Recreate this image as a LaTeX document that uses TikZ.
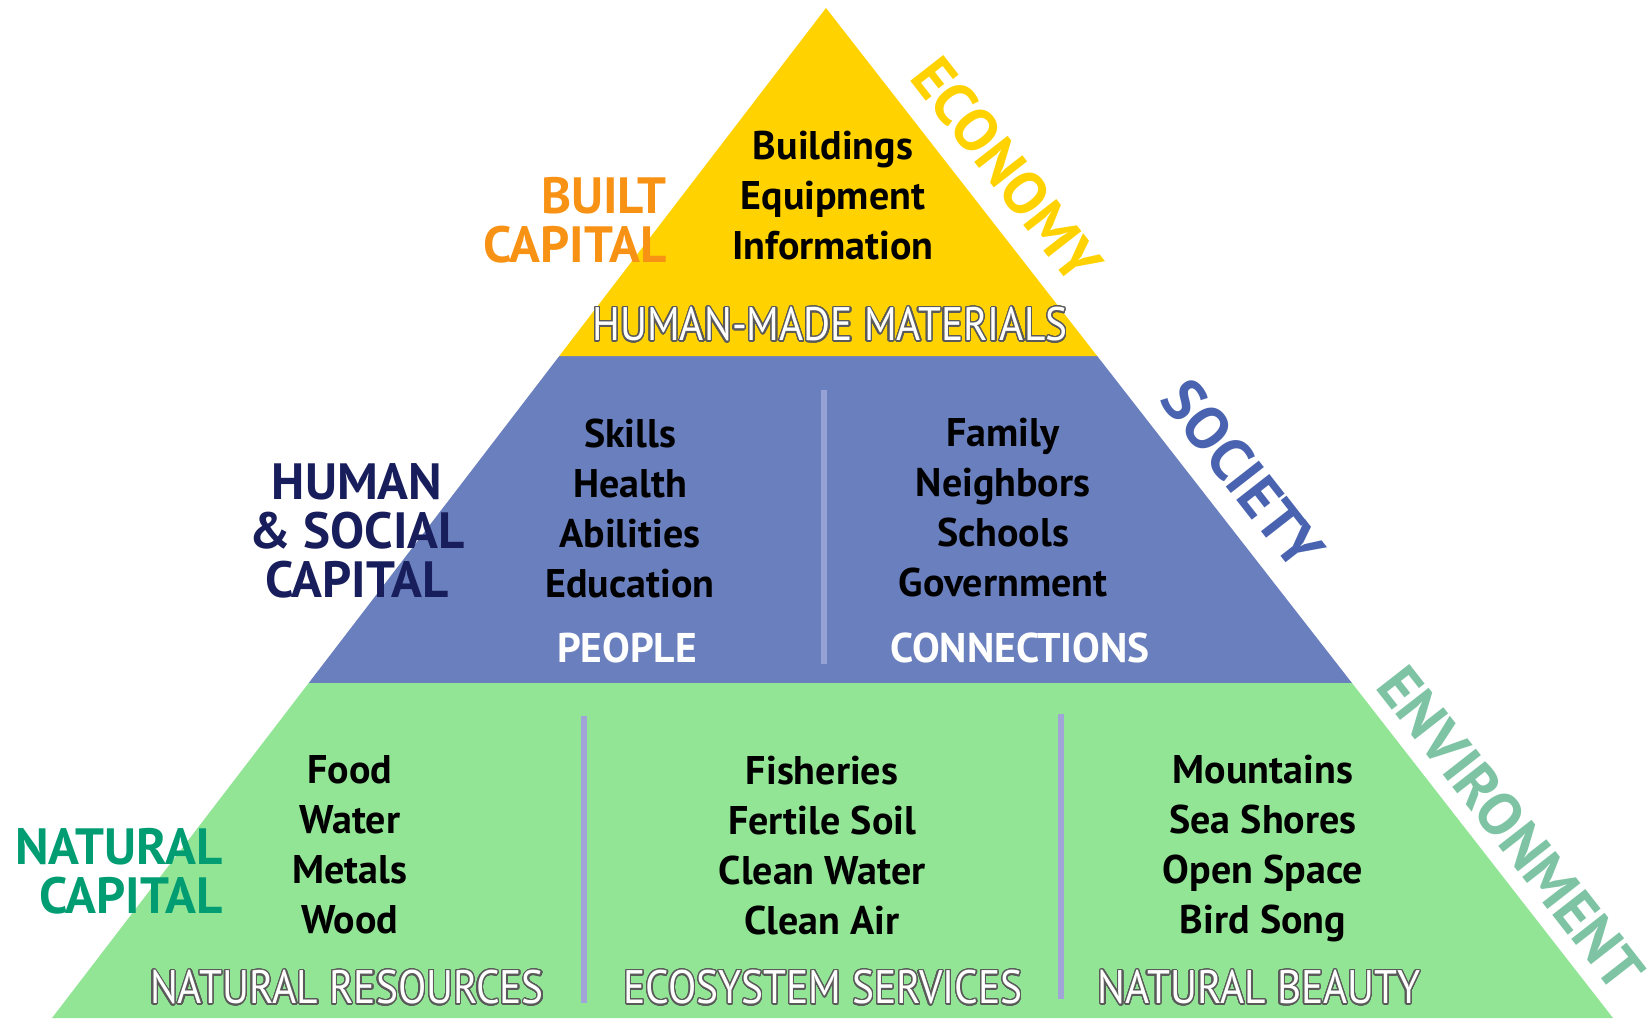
\documentclass[tikz,border=0pt]{standalone}
\usepackage{fontspec}
\setmainfont{PT Sans}
\newfontfamily\narrowfont[FakeStretch=0.88]{PT Sans}
\usepackage{contour}
\contourlength{1.3pt}
\contournumber{32}
\usetikzlibrary{calc}

\definecolor{builtyellow}{RGB}{255,210,0}
\definecolor{peopleblue}{RGB}{106,127,189}
\definecolor{naturegreen}{RGB}{147,229,150}
\definecolor{builtorange}{RGB}{247,146,20}
\definecolor{humannavy}{RGB}{24,30,92}
\definecolor{natgreen}{RGB}{0,156,114}
\definecolor{societyblue}{RGB}{74,99,176}
\definecolor{envgreen}{RGB}{126,196,164}
\definecolor{divlilac}{RGB}{160,164,214}
\definecolor{divblue}{RGB}{150,162,212}
\definecolor{rimgray}{RGB}{90,90,90}

\tikzset{
  list/.style={align=center, font=\fontsize{40}{50}\selectfont\bfseries},
  capital/.style={align=right, font=\fontsize{51}{49}\selectfont\bfseries},
  side/.style={rotate=-52, font=\fontsize{60}{60}\selectfont\bfseries},
  band/.style={text=white, font=\narrowfont\fontsize{47}{47}\selectfont},
  divider/.style={line width=6pt, line cap=butt}
}

\begin{document}
\begin{tikzpicture}[x=1pt,y=-1pt]
\useasboundingbox (0,0) rectangle (1652,1018);

% pyramid corners
\coordinate (A) at (826,8);
\coordinate (BL) at (52,1018);
\coordinate (BR) at (1613,1018);
\coordinate (L1) at ($(A)!0.3446!(BL)$);
\coordinate (R1) at ($(A)!0.3446!(BR)$);
\coordinate (L2) at ($(A)!0.6683!(BL)$);
\coordinate (R2) at ($(A)!0.6683!(BR)$);

% the three bands
\fill[naturegreen] (L2) -- (R2) -- (BR) -- (BL) -- cycle;
\fill[peopleblue] (L1) -- (R1) -- (R2) -- (L2) -- cycle;
\fill[builtyellow] (A) -- (R1) -- (L1) -- cycle;

% dividers
\draw[divider, divblue] (824,390) -- (824,664);
\draw[divider, divlilac] (584,716) -- (584,1003);
\draw[divider, divlilac] (1061,714) -- (1061,999);

% built capital
\node[list] (built) at (833,196) {Buildings\\Equipment\\Information};
\node[band] (madeband) at (830,325) {\contour{rimgray}{HUMAN-MADE MATERIALS}};
\node[capital, text=builtorange, anchor=east] (builtcap) at (670,220) {BUILT\\CAPITAL};

% human and social capital
\node[list] (people) at (630,508) {Skills\\Health\\Abilities\\Education};
\node[list] (links) at (1003,508) {Family\\Neighbors\\Schools\\Government};
\node[text=white, font=\fontsize{41.5}{41.5}\selectfont\bfseries] (peopleband) at (627,648) {PEOPLE};
\node[text=white, font=\fontsize{41.5}{41.5}\selectfont\bfseries] (linksband) at (1020,648) {CONNECTIONS};
\node[capital, align=center, text=humannavy] (humancap) at (357,531) {HUMAN\\\& SOCIAL\\CAPITAL};

% natural capital
\node[list] (resources) at (350,845) {Food\\Water\\Metals\\Wood};
\node[list] (services) at (822,846) {Fisheries\\Fertile Soil\\Clean Water\\Clean Air};
\node[list] (beauty) at (1263,849) {Mountains\\Sea Shores\\Open Space\\Bird Song};
\node[band] (resband) at (347,988) {\contour{rimgray}{NATURAL RESOURCES}};
\node[band] (servband) at (823,988) {\contour{rimgray}{ECOSYSTEM SERVICES}};
\node[band] (beautyband) at (1259,988) {\contour{rimgray}{NATURAL BEAUTY}};
\node[capital, text=natgreen, anchor=east] (natcap) at (226,871) {NATURAL\\CAPITAL};

% sides
\node[side, text=builtyellow] (economy) at (1007,170) {ECONOMY};
\node[side, text=societyblue] (society) at (1243,474) {SOCIETY};
\node[side, text=envgreen] (environment) at (1511,828) {ENVIRONMENT};
\end{tikzpicture}
\end{document}
